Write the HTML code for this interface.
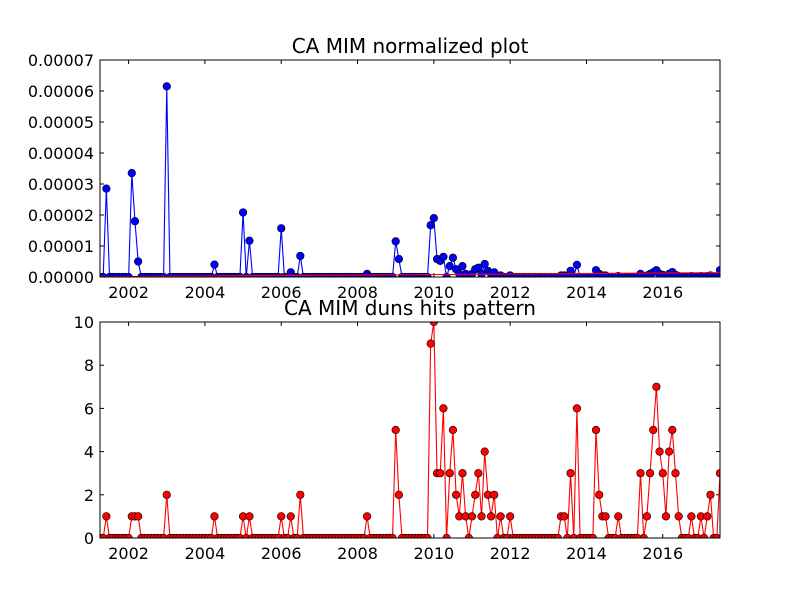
<!DOCTYPE html>
<html><head><meta charset="utf-8"><style>
body{margin:0;background:#fff}
svg text{font-family:"DejaVu Sans","Liberation Sans",sans-serif}
</style></head><body>
<svg id="c" width="800" height="600" viewBox="0 0 800 600" xmlns="http://www.w3.org/2000/svg">
<rect width="800" height="600" fill="#fff"/>
<defs>
<clipPath id="cp1"><rect x="100" y="60" width="620" height="217"/></clipPath>
<clipPath id="cp2"><rect x="100" y="322" width="620" height="216"/></clipPath>
</defs>
</svg>
<script>
// month index 0 = Apr 2001, 196 months
const monthCount = 196;
const hitMonths = [2,10,11,12,21,36,45,47,57,60,63,84,93,94,104,105,106,107,108,110,111,112,113,114,115,117,118,119,120,121,122,123,124,126,129,145,146,148,150,156,157,158,159,163,170,172,173,174,175,176,177,178,179,180,181,182,186,189,191,192,195];
const hitCounts = [1,1,1,1,2,1,1,1,1,1,2,1,5,2,9,10,3,3,6,3,5,2,1,3,1,1,2,3,1,4,2,1,2,1,1,1,1,3,6,5,2,1,1,1,3,1,3,5,7,4,3,1,4,5,3,1,1,1,1,2,3];
// normalized score in units of 1e-6
const normScores = [28.5,33.5,18,5,61.5,4,20.8,11.7,15.7,1.5,6.8,1,11.5,5.8,16.7,19,5.8,5.2,6.5,3.5,6.2,2.5,1,3.5,1,1,2.5,3,1,4.2,2,1,1.5,0.5,0.5,0.5,0.5,2,3.9,2.2,1,0.5,0.5,0.3,1,0.5,1,1.5,2.2,1,0.7,0.3,1,1.6,0.7,0.3,0.3,0.3,0.3,0.5,2.2];
const trendMonths = [0,195];
const trendValues = [0.1,1.4];
const xTickYears = [2002,2004,2006,2008,2010,2012,2014,2016];
const yTicksTop = [0,10,20,30,40,50,60,70];
const yTickLabelsTop = ["0.00000","0.00001","0.00002","0.00003","0.00004","0.00005","0.00006","0.00007"];
const yTicksBottom = [0,2,4,6,8,10];

const NS="http://www.w3.org/2000/svg", svg=document.getElementById('c');
function mk(tag,attrs,parent){const e=document.createElementNS(NS,tag);for(const k in attrs)e.setAttribute(k,attrs[k]);(parent||svg).appendChild(e);return e;}
const L=100,R=720;
function xMonth(i){const d=2001.25+i/12;return L+(d-2001.25)*(R-L)/16.25;}
function xYear(y){return L+(y-2001.25)*(R-L)/16.25;}
function full(vals){const a=new Array(monthCount).fill(0);hitMonths.forEach((m,k)=>a[m]=vals[k]);return a;}

function axes(top,bot,yMax,yTicks,yLabels,title,name){
  const yS=v=>bot-(v/yMax)*(bot-top);
  const g=mk('g',{});
  
  
  xTickYears.forEach(y=>{const x=xYear(y);
    mk('line',{x1:x,x2:x,y1:bot,y2:bot-4,stroke:'#000'},g);
    mk('line',{x1:x,x2:x,y1:top,y2:top+4,stroke:'#000'},g);
    const t=mk('text',{x:x,y:bot+21,'font-size':16,'text-anchor':'middle'},g);t.textContent=y;
    
    
  });
  yTicks.forEach((v,k)=>{const y=yS(v);
    mk('line',{x1:L,x2:L+4,y1:y,y2:y,stroke:'#000'},g);
    mk('line',{x1:R,x2:R-4,y1:y,y2:y,stroke:'#000'},g);
    const t=mk('text',{x:L-6,y:y+6,'font-size':16,'text-anchor':'end'},g);t.textContent=yLabels[k];
    
    
  });
  const tt=mk('text',{x:(L+R)/2,y:top-7,'font-size':20,'text-anchor':'middle'},g);tt.textContent=title;
  
  
  return yS;
}
function series(vals,yS,color,clip,name){
  const g=mk('g',{'clip-path':'url(#'+clip+')'});
  
  
  mk('polyline',{points:vals.map((v,i)=>xMonth(i)+','+yS(v)).join(' '),fill:'none',stroke:color,'stroke-width':1.1},g);
  vals.forEach((v,i)=>{const c=mk('circle',{cx:xMonth(i),cy:yS(v),r:3.8,fill:color,stroke:'#000','stroke-width':0.6},g);
    
    });
}
// top
const yS1=axes(60,277,70,yTicksTop,yTickLabelsTop,'CA MIM normalized plot','top');
series(full(normScores),yS1,'#0000ff','cp1','normalized-series');
const tr=mk('polyline',{points:trendMonths.map((m,k)=>xMonth(m)+','+yS1(trendValues[k])).join(' '),fill:'none',stroke:'#ff0000','stroke-width':1.1,'clip-path':'url(#cp1)'});


mk('rect',{x:L,y:60,width:R-L,height:217,fill:'none',stroke:'#000','stroke-width':1});
// bottom
const yS2=axes(322,538,10,yTicksBottom,yTicksBottom.map(String),'CA MIM duns hits pattern','bottom');
series(full(hitCounts),yS2,'#ff0000','cp2','hits-series');
mk('rect',{x:L,y:322,width:R-L,height:216,fill:'none',stroke:'#000','stroke-width':1});
</script>
</body></html>
